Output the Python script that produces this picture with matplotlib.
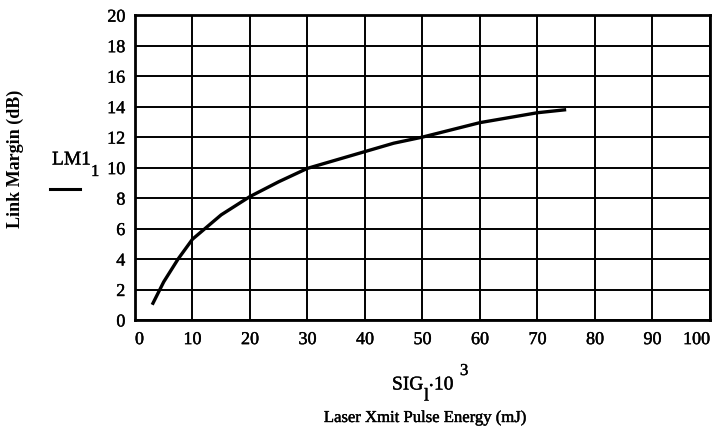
import matplotlib
matplotlib.use("Agg")
import matplotlib.pyplot as plt
import matplotlib.patheffects as pe
from matplotlib.lines import Line2D

plt.rcParams['font.family'] = ['Liberation Serif', 'DejaVu Serif']

# pulse energy (mJ) and resulting link margin (dB)
energy = [3, 5, 7.5, 10, 15, 20, 25, 30, 35, 40, 45, 50, 60, 70, 75]
margin = [1.0, 2.5, 4.0, 5.3, 6.9, 8.1, 9.07, 9.95, 10.5, 11.05, 11.6, 12.0, 12.95, 13.6, 13.8]

x_ticks = list(range(0, 101, 10))
y_ticks = list(range(0, 21, 2))

# slight stroke to give the type a heavier, printed look
heavy = [pe.withStroke(linewidth=0.3, foreground='black')]

W, H = 716, 443
fig = plt.figure(figsize=(W / 100, H / 100), dpi=100)
ax = fig.add_axes([0.1885, 0.2777, 0.803, 0.688])


def px(x, y, s, **kw):
    # place text by pixel position from the top-left corner
    kw.setdefault('path_effects', heavy)
    return fig.text(x / W, 1 - y / H, s, **kw)


ax.plot(energy, margin, color='black', lw=2.4, solid_capstyle='butt')

ax.set_xlim(0, 100)
ax.set_ylim(0, 20)
ax.set_xticks(x_ticks)
ax.set_yticks(y_ticks)
ax.set_xticklabels([str(v) for v in x_ticks], fontsize=13, path_effects=heavy)
ax.set_yticklabels([str(v) for v in y_ticks], fontsize=13, path_effects=heavy)
ax.tick_params(length=0, pad=8)
ax.tick_params(axis='y', pad=7)
labels = ax.get_xticklabels()
labels[0].set_ha('left')
labels[-1].set_ha('right')

ax.grid(True, color='black', lw=1.4)
ax.set_axisbelow(True)
for s in ax.spines.values():
    s.set_linewidth(2.0)

px(15, 159, 'Link Margin (dB)', rotation=90, ha='center', va='center',
   fontsize=13, fontweight='bold', path_effects=[])

# y variable name with its subscript and the line-style key below
px(52, 160, 'LM1', ha='left', va='center', fontsize=14)
px(91, 172, '1', ha='left', va='center', fontsize=12)
fig.add_artist(Line2D([50 / W, 80 / W], [1 - 189 / H, 1 - 189 / H],
                      transform=fig.transFigure, color='black', lw=2.2))

# x variable expression
px(392, 385, 'SIG', ha='left', va='center', fontsize=14)
px(424, 396, 'l', ha='left', va='center', fontsize=13)
px(428, 387, '\u00b7', ha='left', va='center', fontsize=14)
px(434, 385, '10', ha='left', va='center', fontsize=14)
px(460, 371, '3', ha='left', va='center', fontsize=12)

px(425, 418, 'Laser Xmit Pulse Energy (mJ)', ha='center', va='center', fontsize=12)

fig.savefig('out.png', dpi=100)
